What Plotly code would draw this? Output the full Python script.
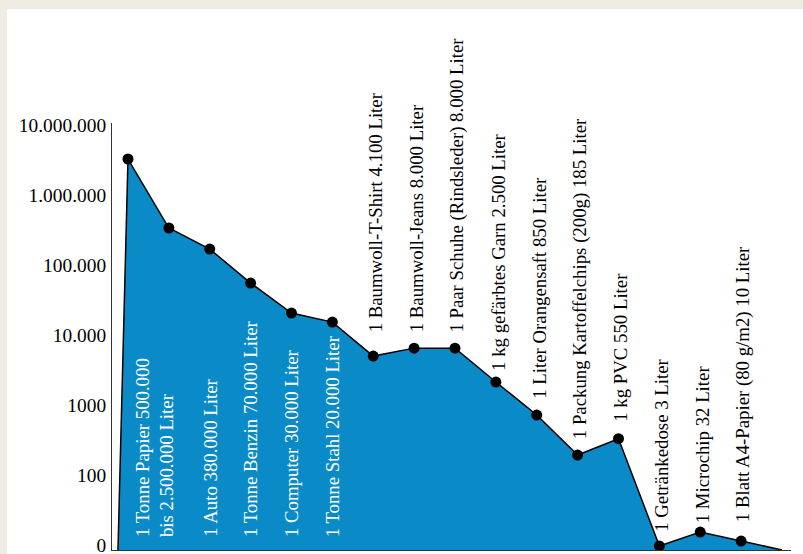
import math
import plotly.graph_objects as go

# ---- data -------------------------------------------------------------
labels = [
    "1 Tonne Papier 500.000<br>bis 2.500.000 Liter",
    "1 Auto 380.000 Liter",
    "1 Tonne Benzin 70.000 Liter",
    "1 Computer 30.000 Liter",
    "1 Tonne Stahl 20.000 Liter",
    "1 Baumwoll-T-Shirt 4.100 Liter",
    "1 Baumwoll-Jeans 8.000 Liter",
    "1 Paar Schuhe (Rindsleder) 8.000 Liter",
    "1 kg gefärbtes Garn 2.500 Liter",
    "1 Liter Orangensaft 850 Liter",
    "1 Packung Kartoffelchips (200g) 185 Liter",
    "1 kg PVC 550 Liter",
    "1 Getränkedose 3 Liter",
    "1 Microchip 32 Liter",
    "1 Blatt A4-Papier (80 g/m2) 10 Liter",
]
# point index each label belongs to
label_pos = [0.65, 2, 3, 4, 5, 6, 7, 8, 9, 10, 11, 12, 13, 14, 15]

# plotted water values (log scale)
values = [3270000, 338000, 169000, 55300, 20600, 15300,
          5000, 6500, 6500, 2130, 720, 193, 330,
          9.7, 15.3, 11.4]
x_idx = list(range(len(values)))

tick_vals = [10, 100, 1000, 10000, 100000, 1000000, 10000000]
tick_text = ["0", "100", "1000", "10.000", "100.000", "1.000.000", "10.000.000"]

# ---- styles -----------------------------------------------------------
BLUE = "#0b8ac8"
BEIGE = "#f0ece4"
FONT = "Liberation Serif"
Y_MIN_LOG, Y_MAX_LOG = 0.929, 7.029
floor_val = 10 ** Y_MIN_LOG

fill_x = [-0.245] + x_idx + [16]
fill_y = [floor_val] + values + [floor_val]

fig = go.Figure()
fig.add_trace(go.Scatter(
    x=fill_x, y=fill_y, mode="lines", fill="toself", fillcolor=BLUE,
    line=dict(color="black", width=1.5), hoverinfo="skip", showlegend=False,
))
fig.add_trace(go.Scatter(
    x=x_idx, y=values, mode="markers",
    marker=dict(color="black", size=11), showlegend=False,
))

white_n = 5
label_shift = [0, 0, 0, 0, 0, 22, 14, 14, 9, 14, 14, 15, 12, 7, 17]
for i, (txt, p) in enumerate(zip(labels, label_pos)):
    if i < white_n:
        fig.add_annotation(
            x=p, y=0, xref="x", yref="paper", text=txt, textangle=-90,
            showarrow=False, xanchor="center", yanchor="bottom", yshift=11,
            align="left", font=dict(family=FONT, size=18.8, color="white"),
        )
    else:
        fig.add_annotation(
            x=p, y=math.log10(values[int(p)]),
            xref="x", yref="y", text=txt, textangle=-90,
            showarrow=False, xanchor="center", yanchor="bottom",
            yshift=label_shift[i], xshift=2,
            font=dict(family=FONT, size=18.8, color="black"),
        )

fig.update_layout(
    width=796, height=545,
    margin=dict(l=105, r=12, t=114, b=4),
    paper_bgcolor="white", plot_bgcolor="white",
    font=dict(family=FONT, size=19.4, color="black"),
    xaxis=dict(range=[-0.391, 16.22], showgrid=False, zeroline=False,
               showticklabels=False, showline=True, linecolor="#333",
               linewidth=1, ticks="", automargin=False),
    yaxis=dict(type="log", range=[Y_MIN_LOG, Y_MAX_LOG], showgrid=False,
               zeroline=False, showline=True, linecolor="#333", linewidth=1,
               tickvals=tick_vals, ticktext=tick_text, ticks="",
               ticklabelstandoff=1, ticklabeloverflow="allow",
               automargin=False),
)
fig.write_html(
    "out.html",
    post_script=("document.documentElement.style.overflow='hidden';"
                 "document.body.style.margin='9px 0 0 7px';"
                 "document.body.style.overflow='hidden';"
                 "document.body.style.background='" + BEIGE + "';"
                 "var gd=document.getElementById('{plot_id}');"
                 "gd.style.overflow='hidden';"
                 "gd.querySelectorAll('svg').forEach(function(s){"
                 "s.style.overflow='hidden';});"),
)
